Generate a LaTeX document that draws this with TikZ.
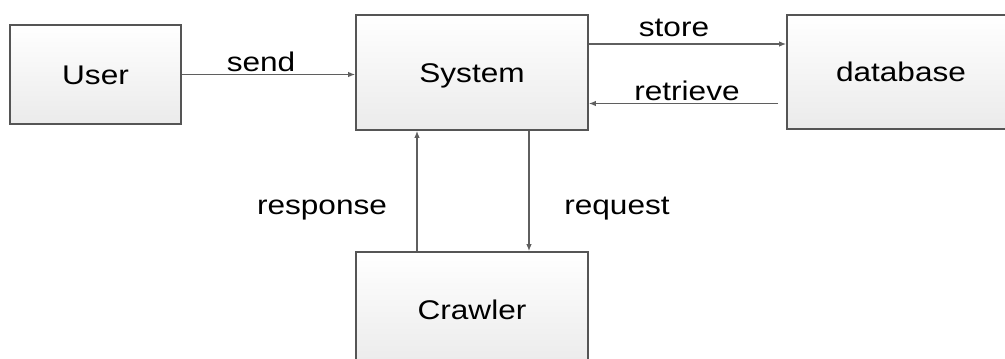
\documentclass[tikz,border=0pt]{standalone}
\usepackage{fontspec}
\setmainfont{Liberation Sans}[FakeStretch=1.17]
\usetikzlibrary{arrows.meta}

\definecolor{edgegray}{RGB}{85,85,85}
\definecolor{linegray}{RGB}{95,95,95}

\begin{document}
\begin{tikzpicture}[x=1pt,y=-1pt,
  block/.style={draw=edgegray, line width=1.6pt, top color=white, bottom color=black!8,
    inner sep=0pt, text height=19pt, text depth=0pt, font=\fontsize{27}{32}\selectfont},
  flow/.style={draw=linegray, line width=1.4pt, -{Latex[length=7pt,width=5.5pt]}},
  lbl/.style={anchor=base, font=\fontsize{27}{32}\selectfont}]

% Page frame
\useasboundingbox (0,0) rectangle (1005,359);
\clip (0,0) rectangle (1005,359);

% Draw the blocks
\node[block, minimum width=171, minimum height=99] (user) at (95.5,74.5) {User};
\node[block, minimum width=232, minimum height=115] (system) at (472,72.5) {System};
\node[block, minimum width=228, minimum height=114] (database) at (901,72) {database};
\node[block, minimum width=232, minimum height=115] (crawler) at (472,309.5) {Crawler};

% Anchors of the side arrows
\coordinate (storeA) at ([yshift=28.5pt]system.east);
\coordinate (backA) at ([xshift=-8pt,yshift=-31.5pt]database.west);
\coordinate (upA) at ([xshift=-55pt]crawler.north);
\coordinate (downA) at ([xshift=57pt]system.south);

% Draw the arrows
\draw[flow] (user.east) -- (user.east -| system.west);
\draw[flow] (storeA) -- (storeA -| database.west);
\draw[flow] (backA) -- (backA -| system.east);
\draw[flow] (upA) -- (upA |- system.south);
\draw[flow] (downA) -- (downA |- crawler.north);

% Arrow labels
\node[lbl] (sendlbl) at (261,71.5) {send};
\node[lbl] (storelbl) at (674,36) {store};
\node[lbl] (retrievelbl) at (687,100) {retrieve};
\node[lbl] (responselbl) at (322,214) {response};
\node[lbl] (requestlbl) at (617,214) {request};

\end{tikzpicture}
\end{document}
